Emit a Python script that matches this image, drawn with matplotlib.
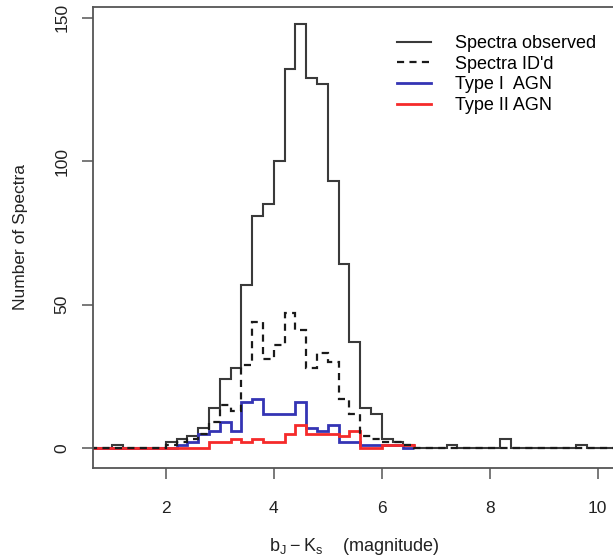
"""
b_J - K_s colour distribution of the spectroscopic sample.
"""

import matplotlib.pyplot as plt
from matplotlib.lines import Line2D
import numpy as np

# ── Histogram counts, 0.2 mag bins starting at 0.6 ───────────────────────────
bin_start = 0.6
bin_width = 0.2

observed = [0, 0, 1, 0, 0, 0, 0,
            2, 3, 4, 7, 14, 24, 28, 57, 81, 85, 100, 132, 148, 129, 127,
            93, 64, 37, 14, 12, 3, 2, 1,
            0, 0, 0, 1, 0, 0, 0, 0, 3, 0, 0, 0, 0, 0, 0, 1, 0, 0, 0, 0]

identified = [0, 0, 0, 0, 0, 0, 0,
              1, 2, 3, 5, 9, 15, 13, 29, 44, 31, 36, 47, 41, 28, 33,
              30, 17, 12, 4, 3, 2, 2, 1,
              0, 0, 0, 0, 0, 0, 0, 0, 0, 0, 0, 0, 0, 0, 0, 0, 0, 0, 0, 0]

type1 = [0, 0, 0, 0, 0, 0, 0, 0,
         1, 2, 5, 6, 9, 6, 16, 17, 12, 12, 12, 16, 7, 6,
         8, 2, 2, 1, 1, 1, 1, 0]

type2 = [0, 0, 0, 0, 0, 0, 0, 0, 0, 0, 0,
         2, 2, 3, 2, 3, 2, 2, 5, 8, 5, 5,
         5, 4, 6, 0, 0, 1, 1, 1]

labels = ['Spectra observed', "Spectra ID'd", 'Type I  AGN', 'Type II AGN']

# ── Style ─────────────────────────────────────────────────────────────────────
plt.rcParams['font.family'] = ['Liberation Sans', 'DejaVu Sans']
plt.rcParams['mathtext.default'] = 'regular'

c_obs = '#3a3a3a'
c_blue = '#3434b4'
c_red = '#f52a2a'
dash = (0, (3.2, 2.4))

edges = bin_start + bin_width * np.arange(len(observed) + 1)

fig = plt.figure(figsize=(6.13, 5.58), dpi=100)
ax = fig.add_axes([93/613, 90/558, (630-93)/613, (468-7)/558])

ax.stairs(observed, edges, color=c_obs, lw=1.5)
ax.stairs(type1, edges[:len(type1)+1], color=c_blue, lw=2.0)
ax.stairs(type2, edges[:len(type2)+1], color=c_red, lw=2.0)
ax.stairs(identified, edges, color='#1a1a1a', lw=1.6, linestyle=dash)

ax.set_xlim(0.65, 10.6)
ax.set_ylim(-7, 153.8)
ax.set_xticks([2, 4, 6, 8, 10])
ax.set_yticks([0, 50, 100, 150])
ax.tick_params(direction='out', length=8, width=1.1, color='#555555',
               labelcolor='#222222', labelsize=12.5, pad=9)
ax.tick_params(axis='x', pad=16)
for lbl in ax.get_yticklabels():
    lbl.set_rotation(90)
    lbl.set_va('center')
for s in ax.spines.values():
    s.set_color('#555555')
    s.set_linewidth(1.3)

ax.set_xlabel(r'$b_J-K_s$    (magnitude)', fontsize=13, color='#222222')
ax.xaxis.set_label_coords((354-93)/537, -0.148)
ax.set_ylabel('Number of Spectra', fontsize=12.5, color='#222222')
ax.yaxis.set_label_coords(-0.121, 0.5)

handles = [Line2D([], [], color=c_obs, lw=1.5),
           Line2D([], [], color='#1a1a1a', lw=1.6, linestyle=dash),
           Line2D([], [], color=c_blue, lw=2.0),
           Line2D([], [], color=c_red, lw=2.0)]
fig.legend(handles, labels, loc='upper left', bbox_to_anchor=(397/613, (558-35)/558),
           frameon=False, fontsize=13, handlelength=1.9, handletextpad=1.31,
           labelspacing=0.2, borderpad=0, borderaxespad=0)

fig.savefig('out.png', dpi=100)
